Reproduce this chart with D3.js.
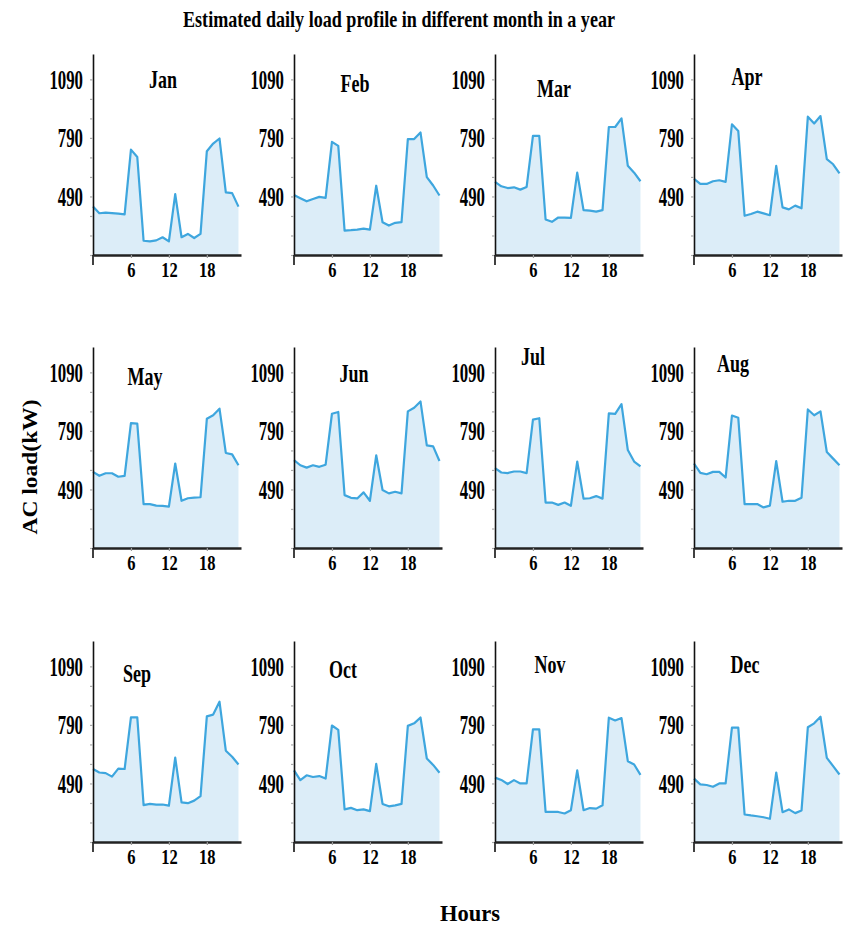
<!DOCTYPE html>
<html>
<head>
<meta charset="utf-8">
<script src="https://cdn.jsdelivr.net/npm/d3@7"></script>
<style>
  body { margin: 0; background: #fff; }
  text { font-family: "Liberation Serif", "Times New Roman", serif; font-weight: bold; fill: #000; }
</style>
</head>
<body>
<script>
// ---------- DATA ----------
const months = ["Jan","Feb","Mar","Apr","May","Jun","Jul","Aug","Sep","Oct","Nov","Dec"];
const hours = [0,1,2,3,4,5,6,7,8,9,10,11,12,13,14,15,16,17,18,19,20,21,22,23];
const xTickValues = [6, 12, 18];
const yTickValues = [190, 290, 390, 490, 590, 690, 790, 890, 990, 1090];
const yLabelValues = [490, 790, 1090];

const loadJan = [438,404,407,405,402,398,730,692,263,260,265,281,260,502,281,298,277,298,722,761,787,511,507,438];
const loadFeb = [497,481,465,477,488,483,770,749,315,317,320,325,320,545,358,341,355,358,784,784,818,589,546,495];
const loadMar = [565,542,533,537,525,539,800,800,372,360,382,382,380,612,420,417,412,420,846,846,890,647,612,568];
const loadApr = [580,554,554,568,573,565,860,826,391,400,412,403,394,647,434,424,443,429,899,864,902,681,655,608];
const loadMay = [580,560,573,573,555,560,830,827,415,415,407,406,402,623,432,445,448,450,852,870,904,677,670,614];
const loadJun = [640,614,602,614,606,617,878,887,461,447,444,475,432,665,487,470,478,470,890,909,941,716,711,636];
const loadJul = [599,577,574,582,582,574,848,855,423,423,411,423,406,633,443,445,456,443,880,877,927,692,633,608];
const loadAug = [623,575,568,580,580,551,869,857,415,415,415,398,407,635,427,432,432,448,900,870,890,682,648,614];
const loadSep = [564,546,543,525,566,564,829,829,379,385,382,382,376,622,393,389,402,425,834,843,909,658,627,587];
const loadOct = [557,507,532,523,528,515,787,765,357,365,353,357,348,590,385,373,378,385,785,798,828,618,585,545];
const loadNov = [520,508,487,507,490,490,767,767,344,344,344,336,353,557,353,364,361,378,827,813,825,604,587,534];
const loadDec = [515,485,482,473,490,490,776,776,331,326,322,317,309,546,343,357,338,352,778,798,832,621,579,536];
const monthlyLoads = [loadJan,loadFeb,loadMar,loadApr,loadMay,loadJun,loadJul,loadAug,loadSep,loadOct,loadNov,loadDec];

// ---------- LAYOUT ----------
const W = 846, H = 928;
const colX = [93, 294, 495, 694];
const rowBottom = [255, 548, 842];
const plotW = 148, plotH = 201;
const labelOffset = [[70,-167],[61,-163],[59,-158],[53,-170],[52,-163],[60,-166],
                     [38,-183],[39,-176],[44,-160],[49,-164],[55,-169],[51,-169]];
const lineColor = "#3ea6de", fillColor = "#dcedf8";

const svg = d3.select("body").append("svg").attr("width", W).attr("height", H);

function condense(sel, factor) {
  sel.each(function() {
    const w = this.getComputedTextLength();
    if (w > 0) d3.select(this).attr("textLength", w * factor).attr("lengthAdjust", "spacingAndGlyphs");
  });
}

const x = d3.scaleLinear().domain([0, 23.4]).range([0, plotW]);
const y = d3.scaleLinear().domain([190, 1220]).range([plotH, 0]);

months.forEach((m, i) => {
  const col = i % 4, row = Math.floor(i / 4);
  const g = svg.append("g").attr("transform", `translate(${colX[col]},${rowBottom[row] - plotH})`);
  const data = hours.map((h, k) => ({h: h, v: monthlyLoads[i][k]}));

  g.append("path").datum(data)
    .attr("fill", fillColor)
    .attr("d", d3.area().x(d => x(d.h)).y0(y(190)).y1(d => y(d.v)));
  g.append("path").datum(data)
    .attr("fill", "none").attr("stroke", lineColor).attr("stroke-width", 2.2)
    .attr("stroke-linejoin", "round")
    .attr("d", d3.line().x(d => x(d.h)).y(d => y(d.v)));

  // y axis
  const ya = g.append("g").call(d3.axisLeft(y).tickValues(yTickValues)
      .tickFormat(d => yLabelValues.includes(d) ? d : "")
      .tickSize(3).tickPadding(7).tickSizeOuter(0));
  ya.select(".domain").attr("stroke", "#111").attr("stroke-width", 1.6);
  ya.selectAll(".tick line").attr("stroke", "#aaa").attr("stroke-width", 1.2);
  ya.selectAll(".tick text").attr("font-size", 28).attr("font-family", null).attr("fill", "#000");
  condense(ya.selectAll(".tick text"), 0.6);
  g.append("line").attr("x1", x(0)).attr("x2", x(0)).attr("y1", y(190)).attr("y2", y(190) + 10)
    .attr("stroke", "#111").attr("stroke-width", 1.6);

  // x axis
  const xa = g.append("g").attr("transform", `translate(0,${y(190)})`)
    .call(d3.axisBottom(x).tickValues(xTickValues).tickSize(3).tickPadding(3).tickSizeOuter(0));
  xa.select(".domain").attr("stroke", "#222").attr("stroke-width", 2.6);
  xa.selectAll(".tick line").attr("stroke", "#999").attr("stroke-width", 1.2);
  xa.selectAll(".tick text").attr("font-size", 22).attr("font-family", null).attr("fill", "#000");
  condense(xa.selectAll(".tick text"), 0.75);

  // month label
  const lt = g.append("text")
    .attr("x", labelOffset[i][0]).attr("y", plotH + labelOffset[i][1])
    .attr("text-anchor", "middle").attr("font-size", 25).text(m);
  condense(lt, 0.72);
});

// titles
svg.append("text").attr("x", 399).attr("y", 27).attr("text-anchor", "middle")
  .attr("font-size", 23).attr("textLength", 432).attr("lengthAdjust", "spacingAndGlyphs")
  .text("Estimated daily load profile in different month in a year");
svg.append("text").attr("transform", "translate(37,467) rotate(-90)").attr("text-anchor", "middle")
  .attr("font-size", 22).attr("textLength", 135).attr("lengthAdjust", "spacingAndGlyphs")
  .text("AC load(kW)");
svg.append("text").attr("x", 470).attr("y", 921).attr("text-anchor", "middle")
  .attr("font-size", 24).attr("textLength", 60).attr("lengthAdjust", "spacingAndGlyphs")
  .text("Hours");
</script>
</body>
</html>
